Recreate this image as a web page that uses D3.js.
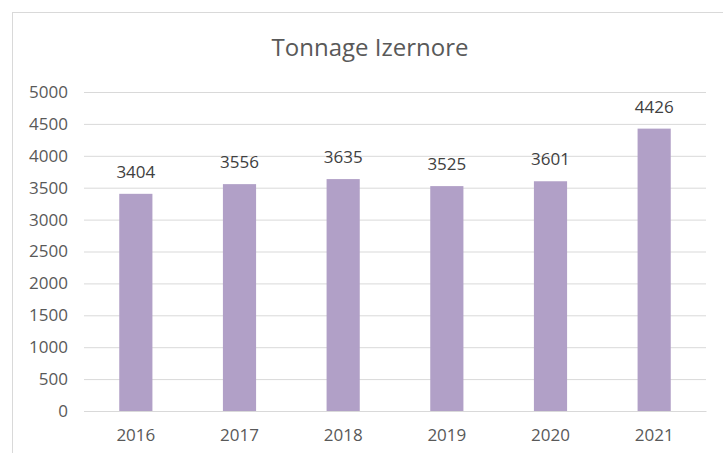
<!DOCTYPE html>
<html lang="en">
<head>
    <meta charset="UTF-8">
    <title>Tonnage Izernore</title>
    <script src="https://d3js.org/d3.v7.min.js"></script>
    <style>
        body { margin: 0; background: #fff; }
        text { font-family: "Open Sans", "Noto Sans", sans-serif; }
    </style>
</head>
<body>
    <svg width="723" height="453"></svg>
    <script>
        var years = ["2016", "2017", "2018", "2019", "2020", "2021"];
        var tonnage = [3404, 3556, 3635, 3525, 3601, 4426];
        var yTicks = [0, 500, 1000, 1500, 2000, 2500, 3000, 3500, 4000, 4500, 5000];

        var svg = d3.select("svg");

        // chart frame (only left and top edges are visible in the crop)
        svg.append("rect")
            .attr("x", 12.5).attr("y", 12.5)
            .attr("width", 760).attr("height", 500)
            .attr("fill", "#fff")
            .attr("stroke", "#d9d9d9");

        var x = d3.scaleBand()
            .domain(years)
            .range([84, 706])
            .paddingInner(0.68)
            .paddingOuter(0.34);

        var y = d3.scaleLinear()
            .domain([0, 5000])
            .range([411, 92]);

        svg.append("text")
            .attr("x", 370).attr("y", 56)
            .attr("text-anchor", "middle")
            .style("font-size", "24px")
            .style("fill", "#595959")
            .text("Tonnage Izernore");

        // gridlines
        var yAxis = d3.axisLeft(y)
            .tickValues(yTicks)
            .tickSize(-(706 - 84))
            .tickPadding(16)
            .tickFormat(d3.format("d"));

        var gy = svg.append("g")
            .attr("transform", "translate(84,0)")
            .call(yAxis);
        gy.select(".domain").remove();
        gy.selectAll(".tick line").attr("stroke", "#d9d9d9");
        gy.selectAll(".tick text")
            .style("font-size", "17px")
            .style("fill", "#595959")
            .style("font-family", "'Open Sans', sans-serif");

        var xAxis = d3.axisBottom(x).tickSize(0).tickPadding(18);
        var gx = svg.append("g")
            .attr("transform", "translate(0,411)")
            .call(xAxis);
        gx.select(".domain").attr("stroke", "#d9d9d9");
        gx.selectAll(".tick text")
            .style("font-size", "17px")
            .style("fill", "#595959")
            .style("font-family", "'Open Sans', sans-serif");

        svg.append("g")
            .selectAll("rect.bar")
            .data(tonnage)
            .join("rect")
            .classed("bar", true)
            .attr("x", function(d, i) { return x(years[i]); })
            .attr("y", function(d) { return y(d); })
            .attr("width", x.bandwidth())
            .attr("height", function(d) { return y(0) - y(d); })
            .style("fill", "#b1a0c7");

        svg.append("g")
            .selectAll("text.label")
            .data(tonnage)
            .join("text")
            .classed("label", true)
            .attr("x", function(d, i) { return x(years[i]) + x.bandwidth() / 2; })
            .attr("y", function(d) { return y(d) - 16; })
            .attr("text-anchor", "middle")
            .style("font-size", "17px")
            .style("fill", "#404040")
            .text(function(d) { return d; });
    </script>
</body>
</html>
